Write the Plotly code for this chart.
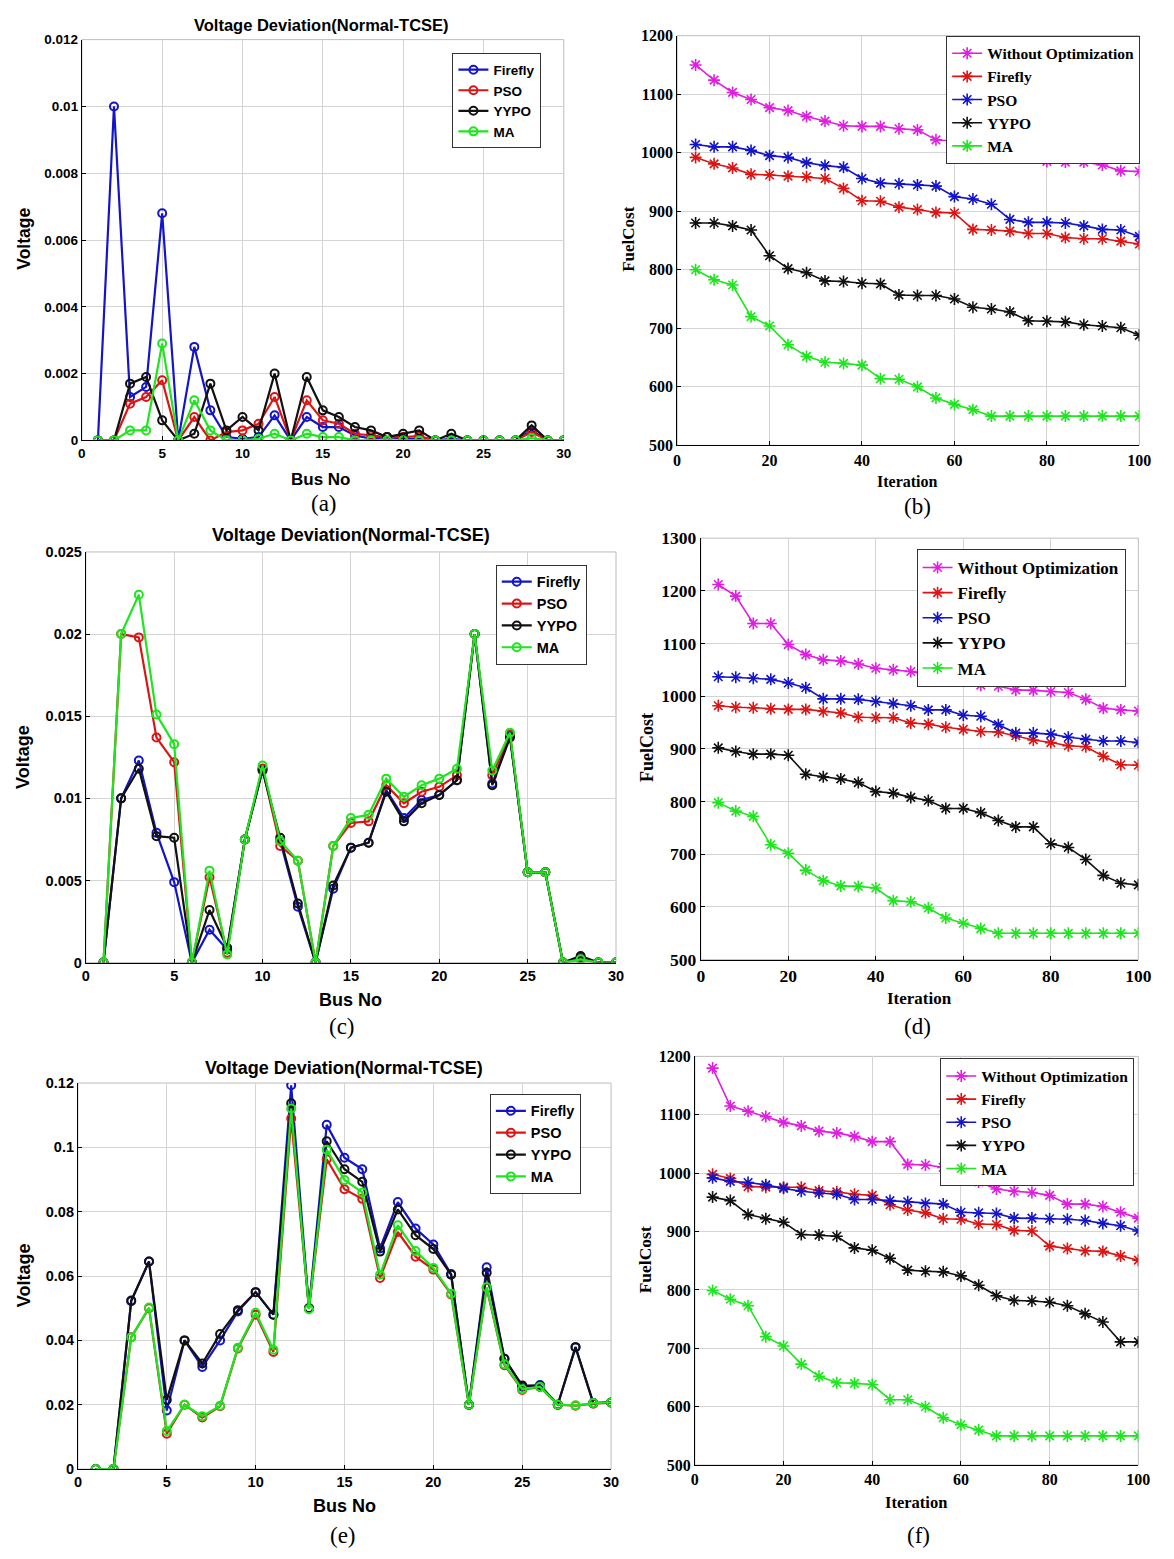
import plotly.graph_objects as go

W, H = 1174, 1559

# ---------------- data ----------------
bus = list(range(1, 31))
iters = list(range(4, 101, 4))

# (a) voltage deviation, case 1
a_firefly = [0, 0.0100, 0.0013, 0.0016, 0.0068, 0, 0.0028, 0.0009, 0.0001, 0.00005,
             0.0001, 0.00075, 0, 0.0007, 0.0004, 0.0004, 0.00015, 0.00005, 0.0001, 0.00005,
             0.00005, 0, 0.00005, 0, 0, 0, 0, 0.0003, 0, 0]
a_pso = [0, 0, 0.0011, 0.0013, 0.0018, 0, 0.0007, 0, 0.00025, 0.0003,
         0.0005, 0.0013, 0, 0.0012, 0.0006, 0.0005, 0.0002, 0.00015, 0.0001, 0.0001,
         0.00013, 0, 0, 0, 0, 0, 0, 0.00025, 0, 0]
a_yypo = [0, 0, 0.0017, 0.0019, 0.0006, 0, 0.0002, 0.0017, 0.0003, 0.0007,
          0.0003, 0.0020, 0, 0.0019, 0.0009, 0.0007, 0.0004, 0.0003, 0.0001, 0.0002,
          0.0003, 0, 0.0002, 0, 0, 0, 0, 0.00045, 0, 0]
a_ma = [0, 0, 0.0003, 0.0003, 0.0029, 0, 0.0012, 0.0003, 0, 0,
        0.00005, 0.0002, 0, 0.0002, 0.0001, 0.0001, 0, 0, 0, 0,
        0, 0, 0, 0, 0, 0, 0, 0.00007, 0, 0]

# (c) voltage deviation, case 2
c_firefly = [0, 0.0100, 0.0123, 0.0079, 0.0049, 0, 0.0020, 0.0008, 0.0075, 0.0118,
             0.0074, 0.0034, 0, 0.0045, 0.0070, 0.0073, 0.0105, 0.0088, 0.0099, 0.0102,
             0.0111, 0.0200, 0.0109, 0.0138, 0.0055, 0.0055, 0, 0.0003, 0, 0]
c_pso = [0, 0.0200, 0.0198, 0.0137, 0.0122, 0, 0.0052, 0.0006, 0.0075, 0.0118,
         0.0071, 0.0062, 0, 0.0071, 0.0085, 0.0086, 0.0108, 0.0097, 0.0104, 0.0107,
         0.0114, 0.0200, 0.0114, 0.0139, 0.0055, 0.0055, 0, 0.0002, 0, 0]
c_yypo = [0, 0.0100, 0.0118, 0.0077, 0.0076, 0, 0.0032, 0.0009, 0.0075, 0.0117,
          0.0076, 0.0036, 0, 0.0047, 0.0070, 0.0073, 0.0104, 0.0086, 0.0097, 0.0102,
          0.0111, 0.0200, 0.0108, 0.0137, 0.0055, 0.0055, 0, 0.0004, 0, 0]
c_ma = [0, 0.0200, 0.0224, 0.0151, 0.0133, 0, 0.0056, 0.0005, 0.0075, 0.0120,
        0.0074, 0.0062, 0, 0.0071, 0.0088, 0.0090, 0.0112, 0.0101, 0.0108, 0.0112,
        0.0118, 0.0200, 0.0117, 0.0140, 0.0055, 0.0055, 0, 0.0002, 0, 0]

# (e) voltage deviation, case 3
e_firefly = [0, 0, 0.0522, 0.0645, 0.0182, 0.0400, 0.0317, 0.0400, 0.0490, 0.0550,
             0.0480, 0.1193, 0.0500, 0.1070, 0.0968, 0.0932, 0.0686, 0.0830, 0.0748, 0.0698,
             0.0606, 0.0200, 0.0627, 0.0343, 0.0256, 0.0261, 0.0200, 0.0379, 0.0205, 0.0207]
e_pso = [0, 0, 0.0410, 0.0500, 0.0110, 0.0200, 0.0160, 0.0195, 0.0375, 0.0480,
         0.0364, 0.1090, 0.0500, 0.0963, 0.0870, 0.0840, 0.0594, 0.0737, 0.0660, 0.0620,
         0.0543, 0.0200, 0.0563, 0.0323, 0.0246, 0.0255, 0.0200, 0.0197, 0.0203, 0.0207]
e_yypo = [0, 0, 0.0524, 0.0645, 0.0215, 0.0400, 0.0328, 0.0420, 0.0494, 0.0550,
          0.0480, 0.1137, 0.0500, 0.1019, 0.0932, 0.0893, 0.0676, 0.0807, 0.0727, 0.0684,
          0.0604, 0.0200, 0.0610, 0.0343, 0.0260, 0.0259, 0.0200, 0.0379, 0.0205, 0.0207]
e_ma = [0, 0, 0.0410, 0.0502, 0.0118, 0.0200, 0.0164, 0.0197, 0.0377, 0.0486,
        0.0371, 0.1121, 0.0497, 0.0993, 0.0899, 0.0860, 0.0604, 0.0758, 0.0678, 0.0625,
        0.0545, 0.0200, 0.0565, 0.0326, 0.0248, 0.0256, 0.0200, 0.0198, 0.0205, 0.0207]

# (b) fuel cost convergence, case 1
b_without = [1150, 1124, 1103, 1091, 1077, 1072, 1062, 1054, 1046, 1045, 1045, 1041, 1039,
             1022, 1019, 1017, 1006, 1006, 994, 985, 984, 984, 979, 969, 968]
b_firefly = [992, 981, 974, 963, 962, 960, 959, 956, 939, 918, 917, 907, 903,
             898, 897, 869, 868, 866, 862, 862, 855, 853, 853, 849, 844]
b_pso = [1014, 1010, 1010, 1004, 995, 992, 983, 978, 975, 956, 948, 947, 945,
         943, 925, 921, 912, 886, 881, 881, 880, 875, 869, 868, 857]
b_yypo = [880, 880, 875, 868, 824, 802, 795, 781, 780, 777, 776, 757, 756,
          756, 750, 736, 733, 728, 713, 712, 711, 706, 704, 701, 688]
b_ma = [800, 783, 774, 720, 704, 672, 652, 642, 640, 637, 614, 613, 600,
        581, 570, 561, 550, 550, 550, 550, 550, 550, 550, 550, 550]

# (d) fuel cost convergence, case 2
d_without = [1212, 1190, 1138, 1138, 1098, 1079, 1069, 1067, 1061, 1053, 1050, 1047, 1040,
             1035, 1034, 1021, 1019, 1012, 1011, 1009, 1007, 994, 977, 974, 972]
d_firefly = [982, 979, 978, 976, 975, 975, 971, 968, 960, 959, 959, 949, 947,
             941, 937, 933, 932, 925, 917, 912, 906, 904, 886, 870, 869]
d_pso = [1037, 1036, 1034, 1032, 1025, 1016, 995, 995, 994, 990, 986, 982, 974,
         974, 964, 962, 946, 930, 930, 928, 922, 918, 915, 915, 912]
d_yypo = [902, 895, 890, 890, 888, 852, 847, 843, 836, 819, 816, 808, 802,
          787, 787, 779, 764, 752, 752, 720, 713, 690, 660, 645, 642]
d_ma = [798, 782, 772, 718, 702, 670, 650, 640, 639, 636, 612, 610, 598,
        579, 569, 559, 550, 550, 550, 550, 550, 550, 550, 550, 550]

# (f) fuel cost convergence, case 3
f_without = [1180, 1115, 1106, 1097, 1087, 1081, 1072, 1069, 1063, 1054, 1054, 1015, 1014,
             1010, 997, 985, 973, 969, 967, 962, 947, 947, 943, 933, 923]
f_firefly = [998, 991, 977, 976, 976, 976, 970, 968, 964, 962, 946, 937, 932,
             922, 921, 913, 912, 902, 901, 875, 871, 867, 866, 858, 851]
f_pso = [992, 986, 984, 980, 974, 969, 966, 964, 955, 955, 953, 951, 948,
         947, 933, 932, 931, 923, 923, 922, 921, 919, 914, 910, 901]
f_yypo = [959, 953, 929, 922, 916, 895, 894, 892, 872, 868, 854, 834, 832,
          831, 824, 808, 790, 782, 781, 779, 773, 759, 745, 711, 711]
f_ma = [799, 784, 773, 720, 704, 673, 652, 641, 640, 638, 612, 612, 600,
        581, 569, 560, 550, 550, 550, 550, 550, 550, 550, 550, 550]

volt_ticks_a = [0, 0.002, 0.004, 0.006, 0.008, 0.01, 0.012]
volt_ticks_c = [0, 0.005, 0.01, 0.015, 0.02, 0.025]
volt_ticks_e = [0, 0.02, 0.04, 0.06, 0.08, 0.1, 0.12]
bus_ticks = [0, 5, 10, 15, 20, 25, 30]
iter_ticks = [0, 20, 40, 60, 80, 100]

# ---------------- styling ----------------
BLUE = "#1414c8"
RED = "#dc1414"
BLACK = "#111111"
GREEN = "#1ee61e"
MAGENTA = "#e01ee0"

SANS = "Liberation Sans"
SERIF = "Liberation Serif"


def fx(px):
    return px / W


def fy(py):
    return 1 - py / H


fig = go.Figure()

# panel boxes in pixels: left, top, right, bottom
panels = {
    "a": (79, 30, 568, 436),
    "b": (683, 26, 1152, 441),
    "c": (83, 549, 621, 965),
    "d": (707, 535, 1151, 962),
    "e": (75, 1087, 616, 1478),
    "f": (701, 1060, 1151, 1474),
}
axis_ids = {"a": "", "b": "2", "c": "3", "d": "4", "e": "5", "f": "6"}
legend_ids = {"a": "legend", "b": "legend2", "c": "legend3",
              "d": "legend4", "e": "legend5", "f": "legend6"}


def add_voltage(key, series):
    n = axis_ids[key]
    for name, vals, col in series:
        fig.add_trace(go.Scatter(
            x=bus, y=vals, name=name, mode="lines+markers",
            line=dict(color=col, width=2.2),
            marker=dict(symbol="circle-open", size=8, color=col, line=dict(width=2, color=col)),
            xaxis="x" + n, yaxis="y" + n, legend=legend_ids[key],
        ))


def add_cost(key, series):
    n = axis_ids[key]
    for name, vals, col in series:
        fig.add_trace(go.Scatter(
            x=iters, y=vals, name=name, mode="lines+markers",
            line=dict(color=col, width=1.6),
            marker=dict(symbol="asterisk-open", size=10, color=col, line=dict(width=1.6, color=col)),
            xaxis="x" + n, yaxis="y" + n, legend=legend_ids[key],
        ))


add_voltage("a", [("Firefly", a_firefly, BLUE), ("PSO", a_pso, RED),
                  ("YYPO", a_yypo, BLACK), ("MA", a_ma, GREEN)])
add_voltage("c", [("Firefly", c_firefly, BLUE), ("PSO", c_pso, RED),
                  ("YYPO", c_yypo, BLACK), ("MA", c_ma, GREEN)])
add_voltage("e", [("Firefly", e_firefly, BLUE), ("PSO", e_pso, RED),
                  ("YYPO", e_yypo, BLACK), ("MA", e_ma, GREEN)])
add_cost("b", [("Without Optimization", b_without, MAGENTA), ("Firefly", b_firefly, RED),
               ("PSO", b_pso, BLUE), ("YYPO", b_yypo, BLACK), ("MA", b_ma, GREEN)])
add_cost("d", [("Without Optimization", d_without, MAGENTA), ("Firefly", d_firefly, RED),
               ("PSO", d_pso, BLUE), ("YYPO", d_yypo, BLACK), ("MA", d_ma, GREEN)])
add_cost("f", [("Without Optimization", f_without, MAGENTA), ("Firefly", f_firefly, RED),
               ("PSO", f_pso, BLUE), ("YYPO", f_yypo, BLACK), ("MA", f_ma, GREEN)])

layout = dict(
    width=W, height=H, margin=dict(l=0, r=0, t=0, b=0),
    paper_bgcolor="white", plot_bgcolor="white",
    showlegend=True,
)


def axis_pair(key, xr, xt, yr, yt, ytext, family, size):
    l, t, r, b = panels[key]
    n = axis_ids[key]
    common = dict(showgrid=True, gridcolor="#d4d4d4", gridwidth=1, zeroline=False,
                  showline=True, linecolor="black", linewidth=1,
                  ticks="inside", ticklen=4, tickcolor="black",
                  tickfont=dict(family=family, size=size, color="black", weight="bold"))
    layout["xaxis" + n] = dict(domain=[fx(l), fx(r)], range=xr, tickvals=xt,
                               ticktext=[str(v) for v in xt],
                               anchor="y" + n, **common)
    layout["yaxis" + n] = dict(domain=[fy(b), fy(t)], range=yr, tickvals=yt,
                               ticktext=ytext, anchor="x" + n, **common)


axis_pair("a", [0, 30], bus_ticks, [0, 0.012], volt_ticks_a,
          ["0", "0.002", "0.004", "0.006", "0.008", "0.01", "0.012"], SANS, 13.5)
axis_pair("c", [0, 30], bus_ticks, [0, 0.025], volt_ticks_c,
          ["0", "0.005", "0.01", "0.015", "0.02", "0.025"], SANS, 14.5)
axis_pair("e", [0, 30], bus_ticks, [0, 0.12], volt_ticks_e,
          ["0", "0.02", "0.04", "0.06", "0.08", "0.1", "0.12"], SANS, 14.5)
cost_b = list(range(500, 1201, 100))
cost_d = list(range(500, 1301, 100))
axis_pair("b", [0, 100], iter_ticks, [500, 1200], cost_b, [str(v) for v in cost_b], SERIF, 16)
axis_pair("d", [0, 100], iter_ticks, [500, 1300], cost_d, [str(v) for v in cost_d], SERIF, 17.5)
axis_pair("f", [0, 100], iter_ticks, [500, 1200], cost_b, [str(v) for v in cost_b], SERIF, 16)

# light box edges on the top and right of every panel
shapes = []
for key, (l, t, r, b) in panels.items():
    shapes.append(dict(type="rect", xref="paper", yref="paper",
                       x0=fx(l), x1=fx(r), y0=fy(b), y1=fy(t),
                       line=dict(color="#bdbdbd", width=1), layer="below"))
layout["shapes"] = shapes

# legends
legend_boxes = {
    "a": (455, 44, SANS, 13.5),
    "b": (956, 26, SERIF, 15.5),
    "c": (499, 562, SANS, 14.5),
    "d": (926, 546, SERIF, 17),
    "e": (493, 1098, SANS, 14.5),
    "f": (950, 1062, SERIF, 15.5),
}
for key, (lx, ly, fam, fs) in legend_boxes.items():
    layout[legend_ids[key]] = dict(
        x=fx(lx), y=fy(ly), xanchor="left", yanchor="top",
        xref="paper", yref="paper",
        bgcolor="white", bordercolor="#333333", borderwidth=1,
        font=dict(family=fam, size=fs, color="black", weight="bold"),
        tracegroupgap=0, itemwidth=30,
    )

# text: titles, axis labels, captions
ann = []


def text(x, y, s, family, size, bold=True, angle=0):
    ann.append(dict(x=fx(x), y=fy(y), xref="paper", yref="paper", text=s,
                    showarrow=False, textangle=angle, xanchor="center", yanchor="middle",
                    font=dict(family=family, size=size, color="black",
                              weight="bold" if bold else "normal")))


title = "Voltage Deviation(Normal-TCSE)"
text(322, 15, title, SANS, 16.5)
text(352, 532, title, SANS, 18)
text(345, 1072, title, SANS, 18)

text(322, 476, "Bus No", SANS, 17)
text(352, 1003, "Bus No", SANS, 18)
text(345, 1515, "Bus No", SANS, 18)

text(20, 232, "Voltage", SANS, 17.5, angle=-90)
text(20, 757, "Voltage", SANS, 18, angle=-90)
text(20, 1282, "Voltage", SANS, 18, angle=-90)

text(917, 478, "Iteration", SERIF, 16)
text(929, 1001, "Iteration", SERIF, 17)
text(925, 1512, "Iteration", SERIF, 16.5)

text(633, 232, "FuelCost", SERIF, 17, angle=-90)
text(653, 747, "FuelCost", SERIF, 18, angle=-90)
text(650, 1266, "FuelCost", SERIF, 17.5, angle=-90)

text(325, 500, "(a)", SERIF, 23, bold=False)
text(927, 503, "(b)", SERIF, 23, bold=False)
text(343, 1030, "(c)", SERIF, 23, bold=False)
text(927, 1030, "(d)", SERIF, 23, bold=False)
text(344, 1545, "(e)", SERIF, 23, bold=False)
text(928, 1545, "(f)", SERIF, 23, bold=False)

layout["annotations"] = ann

fig.update_layout(**layout)
fig.write_html("out.html")
